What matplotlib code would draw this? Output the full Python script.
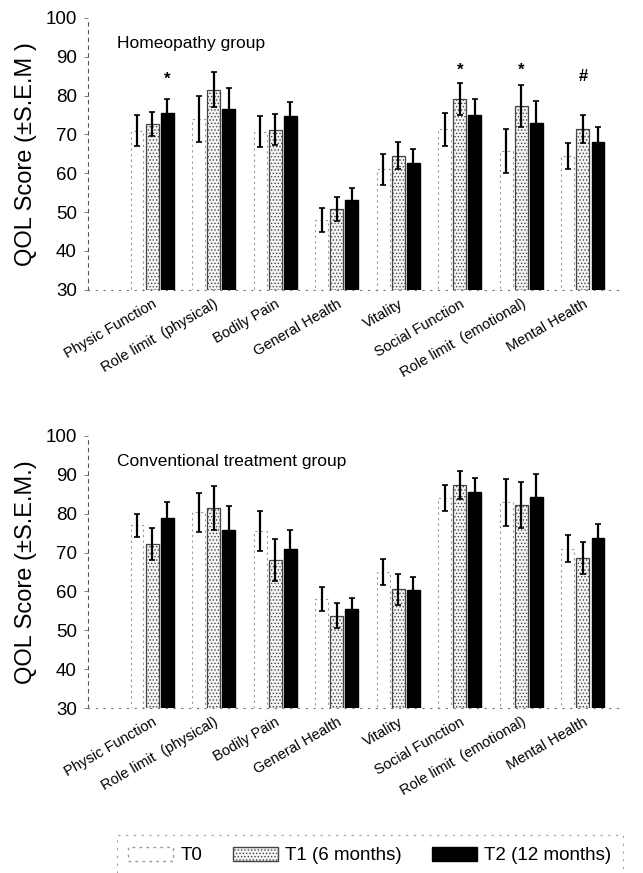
import matplotlib
matplotlib.use("Agg")
import matplotlib.pyplot as plt
import numpy as np
from matplotlib.patches import Patch

plt.rcParams['font.family'] = ['Liberation Sans', 'DejaVu Sans']
plt.rcParams['hatch.linewidth'] = 0.6

## categories
categories = ["Physic Function", "Role limit  (physical)", "Bodily Pain",
              "General Health", "Vitality", "Social Function",
              "Role limit  (emotional)", "Mental Health"]

## Homeopathy group: mean and S.E.M.
homeo_t0 = [71.0, 74.0, 70.7, 48.0, 61.0, 71.3, 65.7, 64.5]
homeo_t0_sem = [4.0, 6.0, 4.0, 3.0, 4.0, 4.2, 5.7, 3.4]
homeo_t1 = [72.7, 81.5, 71.2, 50.8, 64.5, 79.1, 77.3, 71.4]
homeo_t1_sem = [3.0, 4.5, 4.0, 3.0, 3.5, 4.0, 5.5, 3.6]
homeo_t2 = [75.5, 76.5, 74.8, 53.2, 62.7, 75.0, 73.0, 68.1]
homeo_t2_sem = [3.5, 5.5, 3.6, 3.0, 3.5, 4.0, 5.5, 3.8]
## significance markers (category index, bar index, symbol, height)
homeo_marks = [(0, 2, "*", 84.3), (5, 1, "*", 86.6), (6, 1, "*", 86.6), (7, 1, "#", 85.0)]

## Conventional treatment group
conv_t0 = [77.0, 80.4, 75.5, 58.1, 65.0, 84.0, 82.9, 71.0]
conv_t0_sem = [3.0, 5.0, 5.2, 3.1, 3.3, 3.3, 6.0, 3.5]
conv_t1 = [72.2, 81.4, 68.1, 53.7, 60.5, 87.4, 82.2, 68.5]
conv_t1_sem = [4.0, 5.7, 5.3, 3.2, 4.0, 3.6, 6.0, 4.1]
conv_t2 = [79.0, 75.8, 70.9, 55.5, 60.4, 85.7, 84.4, 73.7]
conv_t2_sem = [4.0, 6.2, 5.0, 2.8, 3.3, 3.5, 5.8, 3.6]

y_ticks = [30, 40, 50, 60, 70, 80, 90, 100]

fig = plt.figure(figsize=(6.43, 8.73), dpi=100)
ax1 = fig.add_axes([0.137, 0.668, 0.827, 0.3116])
ax2 = fig.add_axes([0.137, 0.189, 0.827, 0.3116])

x = np.arange(len(categories))
w = 0.21
off = 0.245


def draw_panel(ax, t0, s0, t1, s1, t2, s2, title, ylab, marks=()):
    base = 30
    ax.bar(x - off, np.array(t0) - base, w, bottom=base, color='white',
           edgecolor='#999999', linestyle=(0, (2, 3)), linewidth=0.8)
    ax.bar(x, np.array(t1) - base, w, bottom=base, color='#f4f4f4',
           edgecolor='#444444', hatch='.....', linewidth=0.9)
    ax.bar(x + off, np.array(t2) - base, w, bottom=base, color='black',
           edgecolor='black')
    for pos, vals, sems in [(x - off, t0, s0), (x, t1, s1), (x + off, t2, s2)]:
        ax.errorbar(pos, vals, yerr=sems, fmt='none', ecolor='black',
                    elinewidth=1.6, capsize=2, capthick=1.2)
    for ci, bi, sym, h in marks:
        ax.text(x[ci] + (bi - 1) * off, h, sym, ha='center', va='center',
                fontsize=12, fontweight='bold')
    ax.set_ylim(30, 100)
    ax.set_xlim(-1.04, 7.6)
    ax.set_yticks(y_ticks)
    ax.set_yticklabels([str(t) for t in y_ticks], fontsize=13.5)
    ax.set_xticks(x)
    ax.set_xticklabels(categories, rotation=30, ha='right',
                       rotation_mode='anchor', fontsize=10.5)
    ax.tick_params(axis='x', length=0, pad=5)
    ax.tick_params(axis='y', length=3, width=0.6, color='#666666', pad=5)
    for s in ['top', 'right']:
        ax.spines[s].set_visible(False)
    ax.spines['left'].set_linestyle((0, (3, 4)))
    ax.spines['left'].set_color('#555555')
    ax.spines['left'].set_linewidth(0.8)
    ax.spines['bottom'].set_linestyle((0, (1, 6)))
    ax.spines['bottom'].set_color('#777777')
    ax.spines['bottom'].set_linewidth(0.8)
    ax.set_ylabel(ylab, fontsize=17, labelpad=6)
    ax.text(0.055, 0.905, title, transform=ax.transAxes, fontsize=12.5,
            ha='left', va='center')


draw_panel(ax1, homeo_t0, homeo_t0_sem, homeo_t1, homeo_t1_sem,
           homeo_t2, homeo_t2_sem, "Homeopathy group",
           "QOL Score (\u00b1S.E.M )", homeo_marks)
draw_panel(ax2, conv_t0, conv_t0_sem, conv_t1, conv_t1_sem,
           conv_t2, conv_t2_sem, "Conventional treatment group",
           "QOL Score (\u00b1S.E.M.)")

handles = [Patch(facecolor='white', edgecolor='#999999', linestyle=(0, (2, 3)), label='T0'),
           Patch(facecolor='#f4f4f4', edgecolor='#444444', hatch='.....', label='T1 (6 months)'),
           Patch(facecolor='black', edgecolor='black', label='T2 (12 months)')]
leg = fig.legend(handles=handles, loc='center', bbox_to_anchor=(0.575, 0.02),
                 ncol=3, fontsize=13.5, frameon=True, handlelength=2.4,
                 handleheight=0.8, columnspacing=1.6, handletextpad=0.4,
                 borderpad=0.6, borderaxespad=0, fancybox=False)
leg.get_frame().set_linestyle((0, (2, 5)))
leg.get_frame().set_edgecolor('#888888')
leg.get_frame().set_linewidth(0.8)

fig.savefig("out.png", dpi=100)
